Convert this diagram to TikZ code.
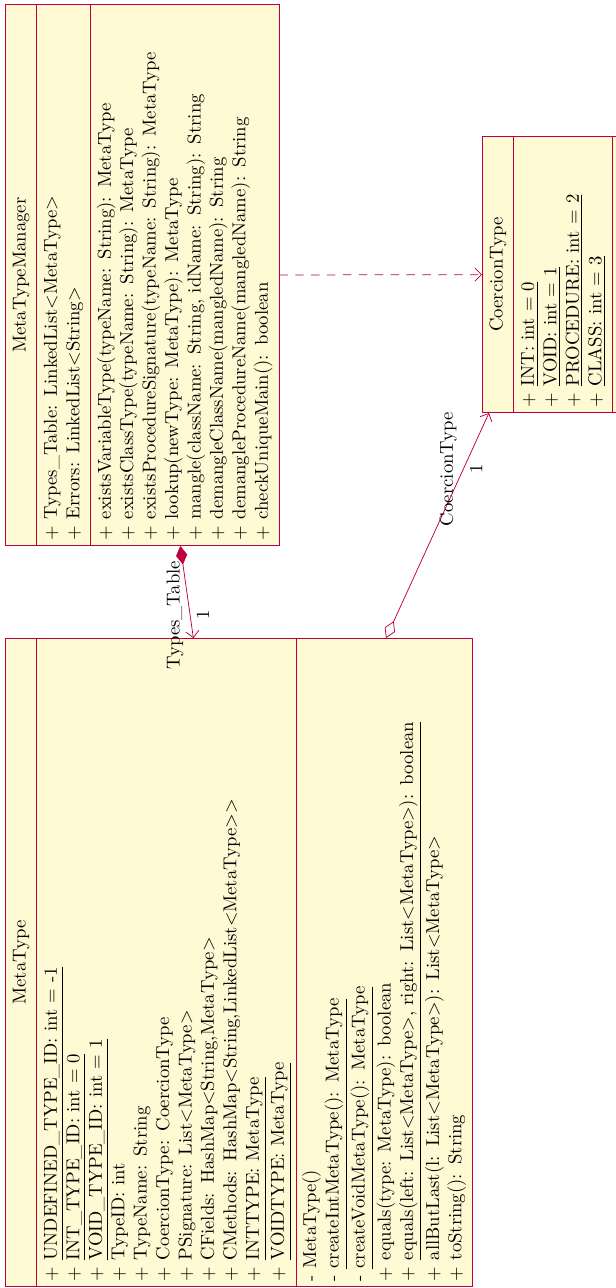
\documentclass[tikz,border=0pt]{standalone}
\usepackage{amsmath,amssymb}
\usepackage{tikz}
\usetikzlibrary{positioning,arrows.meta,calc,shapes.multipart}
\definecolor{umlline}{RGB}{191,0,64}
\definecolor{umlfill}{RGB}{255,250,212}
\newcommand{\pub}[1]{\strut+ #1}
\newcommand{\prv}[1]{\strut- #1}
\newcommand{\clsname}[1]{\hbox to\hsize{\hss\strut #1\hss}}

\begin{document}
\begin{tikzpicture}[
    x=0.535pt, y=0.535pt, rotate=90, transform shape,
    cls/.style={rectangle split, rectangle split parts=3, draw=umlline, fill=umlfill, anchor=north west,
                inner xsep=3pt, inner ysep=2.2pt, align=left, font=\normalsize},
    lnk/.style={draw=umlline, thin},
    tip/.style={-{Straight Barb[length=3.5pt,width=7pt]}}
]
\useasboundingbox (0,0) rectangle (1288,-616);
\clip (0,0) rectangle (1288,-616);
\node[cls, text width=283.4pt] (mtm) at (742,-5) {\clsname{MetaTypeManager}
    \nodepart{two}
    \pub{Types\_Table: LinkedList<MetaType>}\\
    \pub{Errors: LinkedList<String>}
    \nodepart{three}
    \pub{existsVariableType(typeName: String): MetaType}\\
    \pub{existsClassType(typeName: String): MetaType}\\
    \pub{existsProcedureSignature(typeName: String): MetaType}\\
    \pub{lookup(newType: MetaType): MetaType}\\
    \pub{mangle(className: String, idName: String): String}\\
    \pub{demangleClassName(mangledName): String}\\
    \pub{demangleProcedureName(mangledName): String}\\
    \pub{checkUniqueMain(): boolean}};
\node[cls, text width=340.7pt] (mt) at (1,-5) {\clsname{MetaType}
    \nodepart{two}
    \pub{\underline{UNDEFINED\_TYPE\_ID: int = -1}}\\
    \pub{\underline{INT\_TYPE\_ID: int = 0}}\\
    \pub{\underline{VOID\_TYPE\_ID: int = 1}}\\
    \pub{TypeID: int}\\
    \pub{TypeName: String}\\
    \pub{CoercionType: CoercionType}\\
    \pub{PSignature: List<MetaType>}\\
    \pub{CFields: HashMap<String,MetaType>}\\
    \pub{CMethods: HashMap<String,LinkedList<MetaType>{}>}\\
    \pub{\underline{INTTYPE: MetaType}}\\
    \pub{\underline{VOIDTYPE: MetaType}}
    \nodepart{three}
    \prv{MetaType()}\\
    \prv{\underline{createIntMetaType(): MetaType}}\\
    \prv{\underline{createVoidMetaType(): MetaType}}\\
    \pub{equals(type: MetaType): boolean}\\
    \pub{\underline{equals(left: List<MetaType>, right: List<MetaType>): boolean}}\\
    \pub{allButLast(l: List<MetaType>): List<MetaType>}\\
    \pub{toString(): String}};
\node[cls, text width=141.7pt] (ct) at (875,-482) {\clsname{CoercionType}
    \nodepart{two}
    \pub{\underline{INT: int = 0}}\\
    \pub{\underline{VOID: int = 1}}\\
    \pub{\underline{PROCEDURE: int = 2}}\\
    \pub{\underline{CLASS: int = 3}}
    \nodepart{three}};
\draw[lnk, dash pattern=on 4.5pt off 4pt, tip] (mtm) -- (ct);
\draw[lnk, {Diamond[length=10pt,width=6pt]}-{Straight Barb[length=3.5pt,width=7pt]}] (mtm) --
    node[near end, above] (tt-name) {Types\_Table} node[near end, below] (tt-mult) {1} (mt);
\draw[lnk, {Diamond[open,length=10pt,width=6pt]}-{Straight Barb[length=3.5pt,width=7pt]}] (mt) --
    node[near end, above] (co-name) {CoercionType} node[near end, below] (co-mult) {1} (ct);
\end{tikzpicture}
\end{document}
